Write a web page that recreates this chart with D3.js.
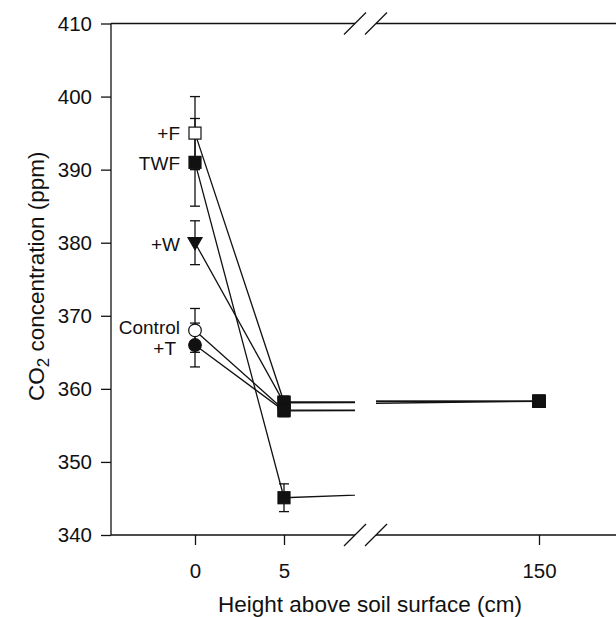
<!DOCTYPE html>
<html>
<head>
<meta charset="utf-8">
<script src="https://cdn.jsdelivr.net/npm/d3@7"></script>
<style>
body{margin:0;background:#fff;}
svg text{font-family:"Liberation Sans", Arial, Helvetica, sans-serif;fill:#111;}
</style>
</head>
<body>
<svg id="chart" width="616" height="617"></svg>
<script>
// heights above soil surface (cm)
const heights = [0, 5, 150];

// CO2 means and error (ppm), one array per treatment
const fMean = [395, 358.2, 358.3];
const fErr = [5, 0.8, 0.5];
const twfMean = [391, 345.1, 358.3];
const twfErr = [6, 1.9, 0.5];
const wMean = [380, 358.1, 358.3];
const wErr = [3, 0.8, 0.5];
const controlMean = [368, 357.1, 358.3];
const controlErr = [3, 0.8, 0.5];
const tMean = [366, 357.0, 358.3];
const tErr = [3, 0.8, 0.5];

const yTicks = [340, 350, 360, 370, 380, 390, 400, 410];
const xTicksLeft = [0, 5];
const xTicksRight = [150];

const series = [
    {name: '+F', mean: fMean, err: fErr, symbol: 'square', filled: false, labelDy: 0},
    {name: 'TWF', mean: twfMean, err: twfErr, symbol: 'square', filled: true, labelDy: 1},
    {name: '+W', mean: wMean, err: wErr, symbol: 'triangle', filled: true, labelDy: 1},
    {name: 'Control', mean: controlMean, err: controlErr, symbol: 'circle', filled: false, labelDy: -3.5},
    {name: '+T', mean: tMean, err: tErr, symbol: 'circle', filled: true, labelDy: 3.5}
];

const svg = d3.select('#chart');
const ink = '#111';

const plotTop = 23.5, plotBottom = 535, plotLeft = 111, plotRight = 616;
const breakA = 355, breakB = 376;

const y = d3.scaleLinear().domain([340, 410]).range([plotBottom, plotTop]);
const x1 = d3.scaleLinear().domain([0, 5]).range([195, 284]);
const x2 = d3.scaleLinear().domain([147, 150]).range([372, 539]);

function xPos(h){
    return h < 20 ? x1(h) : x2(h);
}

// clip regions for the two halves of the broken axis
const defs = svg.append('defs');
defs.append('clipPath').attr('id', 'clipA')
    .append('rect').attr('x', plotLeft).attr('y', 0).attr('width', breakA - plotLeft).attr('height', 617);
defs.append('clipPath').attr('id', 'clipB')
    .append('rect').attr('x', breakB).attr('y', 0).attr('width', plotRight - breakB).attr('height', 617);

// axis lines
const axisG = svg.append('g').attr('stroke', ink).attr('stroke-width', 1.3).attr('fill', 'none');
axisG.append('line').attr('x1', plotLeft).attr('x2', plotLeft).attr('y1', plotTop).attr('y2', plotBottom);
[plotTop, plotBottom].forEach(yy => {
    axisG.append('line').attr('x1', plotLeft).attr('x2', breakA).attr('y1', yy).attr('y2', yy);
    axisG.append('line').attr('x1', breakB).attr('x2', plotRight).attr('y1', yy).attr('y2', yy);
    [breakA, breakB].forEach(bx => {
        axisG.append('line')
            .attr('x1', bx - 11).attr('y1', yy + 11)
            .attr('x2', bx + 11).attr('y2', yy - 11);
    });
});

// y axis ticks
const yAxis = svg.append('g')
    .attr('transform', 'translate(' + plotLeft + ',0)')
    .call(d3.axisLeft(y).tickValues(yTicks).tickSize(10).tickPadding(9).tickSizeOuter(0));

// x axis ticks, one per half
const xAxisA = svg.append('g')
    .attr('transform', 'translate(0,' + plotBottom + ')')
    .call(d3.axisBottom(x1).tickValues(xTicksLeft).tickFormat(d3.format('d')).tickSize(10).tickPadding(18));
const xAxisB = svg.append('g')
    .attr('transform', 'translate(0,' + plotBottom + ')')
    .call(d3.axisBottom(x2).tickValues(xTicksRight).tickFormat(d3.format('d')).tickSize(10).tickPadding(18));

[yAxis, xAxisA, xAxisB].forEach(g => {
    g.select('.domain').remove();
    g.selectAll('line').attr('stroke', ink).attr('stroke-width', 1.3);
    g.selectAll('text').style('font-size', '20.5px').attr('fill', ink);
});

// axis titles
svg.append('text')
    .attr('x', 370).attr('y', 612)
    .attr('text-anchor', 'middle')
    .style('font-size', '22.5px')
    .text('Height above soil surface (cm)');

const yTitle = svg.append('text')
    .attr('transform', 'translate(44,' + ((plotTop + plotBottom) / 2 - 3) + ') rotate(-90)')
    .attr('text-anchor', 'middle')
    .style('font-size', '22.5px');
yTitle.append('tspan').text('CO');
yTitle.append('tspan').text('2').attr('baseline-shift', '-30%').style('font-size', '17px');
yTitle.append('tspan').text(' concentration (ppm)');

// connecting lines, drawn in each half and clipped at the break
const line = xs => d3.line().x((d, i) => xs(heights[i])).y(d => y(d));

['clipA', 'clipB'].forEach((clip, k) => {
    const xs = k == 0 ? x1 : x2;
    svg.append('g')
        .attr('clip-path', 'url(#' + clip + ')')
        .selectAll('.seriesLine')
        .data(series)
        .enter()
        .append('path')
        .attr('class', 'seriesLine')
        .attr('d', d => line(xs)(d.mean))
        .attr('fill', 'none')
        .attr('stroke', ink)
        .attr('stroke-width', 1.3);
});

// error bars
const capw = 5;
series.forEach(s => {
    const g = svg.append('g').attr('stroke', ink).attr('stroke-width', 1.3);
    s.mean.forEach((m, i) => {
        const cx = xPos(heights[i]);
        const lo = y(m - s.err[i]), hi = y(m + s.err[i]);
        g.append('line').attr('x1', cx).attr('x2', cx).attr('y1', lo).attr('y2', hi);
        g.append('line').attr('x1', cx - capw).attr('x2', cx + capw).attr('y1', lo).attr('y2', lo);
        g.append('line').attr('x1', cx - capw).attr('x2', cx + capw).attr('y1', hi).attr('y2', hi);
    });
});

// markers
function drawMarker(g, cx, cy, symbol, filled){
    let m;
    if(symbol == 'square'){
        m = g.append('rect').attr('x', cx - 6).attr('y', cy - 6).attr('width', 12).attr('height', 12);
    }else if(symbol == 'circle'){
        m = g.append('circle').attr('cx', cx).attr('cy', cy).attr('r', 6.3);
    }else{
        m = g.append('path').attr('d', 'M' + (cx - 7) + ',' + (cy - 5) + 'L' + (cx + 7) + ',' + (cy - 5) + 'L' + cx + ',' + (cy + 7) + 'Z');
    }
    m.attr('fill', filled ? ink : '#fff').attr('stroke', ink).attr('stroke-width', 1.2);
}

const markerG = svg.append('g');
series.forEach(s => {
    s.mean.forEach((m, i) => {
        if(i == 0)
            drawMarker(markerG, xPos(heights[i]), y(m), s.symbol, s.filled);
        else
            drawMarker(markerG, xPos(heights[i]), y(m), 'square', true);
    });
});

// treatment labels next to the surface values
svg.append('g').selectAll('.seriesLabel')
    .data(series)
    .enter()
    .append('text')
    .attr('class', 'seriesLabel')
    .attr('x', d => x1(0) - (d.name == '+T' ? 19 : 15))
    .attr('y', d => y(d.mean[0]) + d.labelDy)
    .attr('dy', '0.36em')
    .attr('text-anchor', 'end')
    .style('font-size', '19px')
    .text(d => d.name);
</script>
</body>
</html>
